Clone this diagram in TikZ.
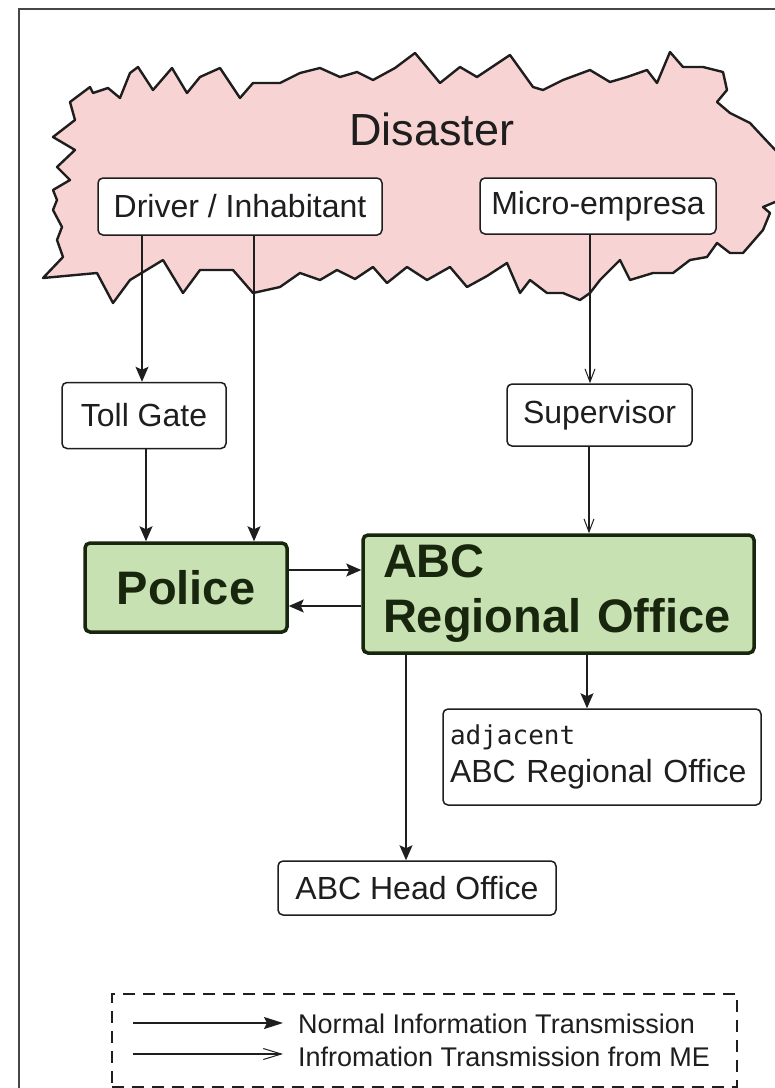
\documentclass[tikz,border=0pt]{standalone}
\usepackage{fontspec}
\setmainfont{Liberation Sans}
\setmonofont{DejaVu Sans Mono}
\usetikzlibrary{arrows.meta,calc}

\definecolor{cloudpink}{RGB}{248,211,212}
\definecolor{boxgreen}{RGB}{199,225,178}
\definecolor{ink}{RGB}{30,30,30}
\definecolor{greenink}{RGB}{24,38,14}
\definecolor{framegray}{RGB}{70,70,70}

\tikzset{
  plainbox/.style={draw=ink, line width=1.5pt, rounded corners=5pt, fill=white,
    inner sep=0pt, text=ink, font=\fontsize{32}{38}\selectfont},
  keybox/.style={draw=greenink, line width=3.5pt, rounded corners=5pt, fill=boxgreen,
    inner sep=0pt, text=greenink, font=\bfseries\fontsize{47}{55}\selectfont},
  normal/.style={line width=1.4pt, draw=ink, -{Stealth[length=15pt,width=13pt,inset=3pt]}},
  fromme/.style={line width=1.2pt, draw=ink, -{Straight Barb[length=13pt,width=10pt,line width=1pt]}},
  legendtxt/.style={anchor=base west, inner sep=0pt, text=ink, font=\fontsize{27}{30}\selectfont},
}

\begin{document}
\begin{tikzpicture}[x=1pt,y=-1pt]
\useasboundingbox (0,0) rectangle (775,1088);
\fill[white] (0,0) rectangle (775,1088);

% outer frame
\draw[line width=2pt, draw=framegray] (19,1100) -- (19,9) -- (790,9);

% jagged disaster cloud
\filldraw[fill=cloudpink, draw=ink, line width=2.4pt, line join=round]
  (43,278) -- (63,257) -- (57,240) -- (62,227) -- (53,210) -- (57,200) -- (53,190)
  -- (70,180) -- (57,167) -- (75,150) -- (53,137) -- (75,120) -- (70,102)
  -- (90,87) -- (93,93) -- (108,88) -- (120,98) -- (130,73) -- (138,67) -- (153,90)
  -- (172,68) -- (187,93) -- (200,77) -- (220,68) -- (240,98) -- (253,83) -- (280,83)
  -- (300,73) -- (320,68) -- (340,77) -- (357,72) -- (373,80) -- (395,68) -- (415,53)
  -- (440,83) -- (460,67) -- (477,77) -- (510,55) -- (533,87) -- (543,90) -- (563,80)
  -- (590,70) -- (610,82) -- (627,77) -- (647,70) -- (657,83) -- (670,52) -- (683,67)
  -- (703,67) -- (723,72) -- (727,90) -- (717,102) -- (730,113) -- (750,123)
  -- (763,137) -- (780,155)
  -- (780,200) -- (763,207) -- (770,213) -- (763,230) -- (743,253) -- (730,253)
  -- (717,243) -- (707,257) -- (690,260) -- (673,273) -- (653,273) -- (630,280)
  -- (620,260) -- (600,280) -- (590,293) -- (580,300) -- (563,293) -- (547,293)
  -- (530,280) -- (520,293) -- (507,263) -- (487,276) -- (467,287) -- (450,267)
  -- (427,280) -- (407,267) -- (387,283) -- (373,267) -- (355,279) -- (337,270)
  -- (320,280) -- (300,273) -- (280,287) -- (253,293) -- (233,270) -- (200,270)
  -- (183,293) -- (163,260) -- (130,280) -- (113,303) -- (97,273) -- cycle;

\node[text=ink, font=\fontsize{45}{50}\selectfont] (dis) at (432,129) {Disaster};

% boxes
\node[plainbox, minimum width=284pt, minimum height=57pt] (drv) at (240,206.5) {Driver / Inhabitant};
\node[plainbox, minimum width=236pt, minimum height=56pt] (me) at (598,206) {Micro-empresa};
\node[plainbox, minimum width=164pt, minimum height=66pt] (tg) at (144,415.5) {Toll Gate};
\node[plainbox, minimum width=185pt, minimum height=62pt] (sup) at (599.5,415) {Supervisor};
\node[keybox, minimum width=202pt, minimum height=89pt] (pol) at (186,587.5) {Police};
\node[keybox, minimum width=391pt, minimum height=118pt, text width=351pt, align=left,
      inner xsep=20pt] (abc) at (558.5,594) {ABC\\Regional Office};
\node[plainbox, minimum width=318pt, minimum height=96pt, text width=304pt, align=left,
      inner xsep=7pt] (adj) at (602,757)
      {{\ttfamily\fontsize{26}{38}\selectfont adjacent}\\ABC Regional Office};
\node[plainbox, minimum width=278pt, minimum height=54pt] (ho) at (417,888) {ABC Head Office};

% normal transmission
\draw[normal] ($(drv.south)+(-98,0)$) coordinate (d1) -- (d1 |- tg.north);
\draw[normal] ($(drv.south)+(14,0)$) coordinate (d2) -- (d2 |- pol.north);
\draw[normal] ($(tg.south)+(2,0)$) coordinate (t1) -- (t1 |- pol.north);
\draw[normal] ($(pol.east)+(0,-17.5)$) coordinate (pa) -- (pa -| abc.west);
\draw[normal] ($(pol.east)+(0,18.5)$) coordinate (pb) (pb -| abc.west) -- (pb);
\draw[normal] ($(abc.south)+(-152.5,0)$) coordinate (ah) -- (ah |- ho.north);
\draw[normal] ($(abc.south)+(28.5,0)$) coordinate (aa) -- (aa |- adj.north);

% transmission from the micro-empresa
\draw[fromme] ($(me.south)+(-8,0)$) coordinate (m1) -- (m1 |- sup.north);
\draw[fromme] ($(sup.south)+(-10.5,0)$) coordinate (s1) -- (s1 |- abc.north);

% legend
\node[draw=ink, line width=1.5pt, dash pattern=on 12pt off 8pt, inner sep=0pt,
      minimum width=625pt, minimum height=93pt] (leg) at (424.5,1040.5) {};
\coordinate (l1s) at (133,1023);
\coordinate (l1e) at (283,1023);
\coordinate (l2s) at (133,1054);
\coordinate (l2e) at (283,1054);
\draw[line width=1.4pt, draw=ink, -{Stealth[length=19pt,width=12pt,inset=3pt]}] (l1s) -- (l1e);
\draw[line width=1.2pt, draw=ink, -{Straight Barb[length=18pt,width=11pt,line width=1pt]}] (l2s) -- (l2e);
\node[legendtxt] (lt1) at (298,1033) {Normal Information Transmission};
\node[legendtxt] (lt2) at (298,1066) {Infromation Transmission from ME};
\end{tikzpicture}
\end{document}
